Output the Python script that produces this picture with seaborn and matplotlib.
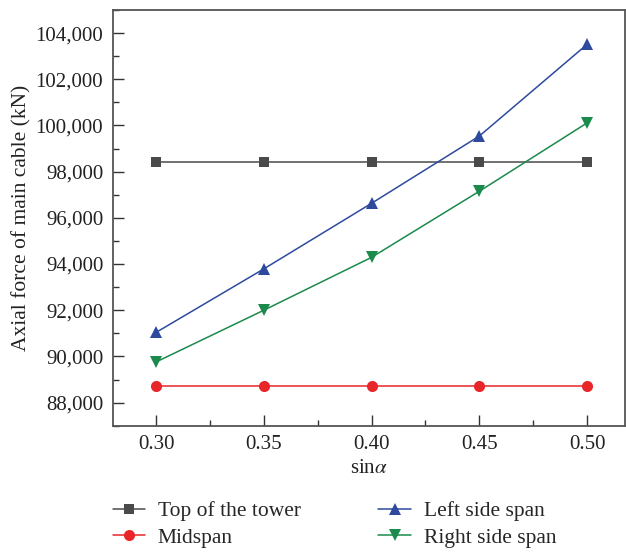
import numpy as np
import pandas as pd
import matplotlib
matplotlib.use("Agg")
import matplotlib.pyplot as plt
import seaborn as sns
from matplotlib.ticker import FuncFormatter, MultipleLocator

sin_alpha = [0.30, 0.35, 0.40, 0.45, 0.50]
top_tower = [98400, 98400, 98400, 98400, 98400]
midspan = [88720, 88720, 88720, 88720, 88720]
left_span = [91040, 93790, 96630, 99540, 103510]
right_span = [89760, 92000, 94290, 97150, 100110]

series_names = ["Top of the tower", "Midspan", "Left side span", "Right side span"]
series_vals = [top_tower, midspan, left_span, right_span]

rows = []
for name, vals in zip(series_names, series_vals):
    for x, v in zip(sin_alpha, vals):
        rows.append({"sin": x, "force": v, "series": name})
df = pd.DataFrame(rows)

sns.set_style("ticks")
plt.rcParams['font.family'] = ['Liberation Serif', 'DejaVu Serif']
plt.rcParams['mathtext.fontset'] = 'stix'

fig = plt.figure(figsize=(6.26, 5.52), dpi=100)
ax = fig.add_axes([0.1805, 0.2288, 0.8175, 0.7531])

palette = {"Top of the tower": "#4a4a4a", "Midspan": "#e8262a",
           "Left side span": "#2e4a9e", "Right side span": "#1b8a4c"}
markers = {"Top of the tower": "s", "Midspan": "o",
           "Left side span": "^", "Right side span": "v"}
sizes_ms = {"Top of the tower": 7, "Midspan": 8,
            "Left side span": 8.5, "Right side span": 8.5}

for name in series_names:
    sub = df[df["series"] == name]
    sns.lineplot(data=sub, x="sin", y="force", ax=ax, color=palette[name],
                 marker=markers[name], markersize=sizes_ms[name],
                 markeredgewidth=0, linewidth=1.1, label=name)

ax.set_xlim(0.28, 0.5175)
ax.set_ylim(87000, 105000)
ax.xaxis.set_major_locator(MultipleLocator(0.05))
ax.xaxis.set_minor_locator(MultipleLocator(0.025))
ax.yaxis.set_major_locator(MultipleLocator(2000))
ax.yaxis.set_minor_locator(MultipleLocator(1000))
ax.xaxis.set_major_formatter(FuncFormatter(lambda v, p: f"{v:.2f}"))
ax.yaxis.set_major_formatter(FuncFormatter(lambda v, p: f"{int(round(v)):,}"))
ax.tick_params(which="major", direction="in", length=8, width=1, labelsize=15,
               color="#333333", labelcolor="#222222")
ax.tick_params(which="minor", direction="in", length=4, width=1, color="#333333")
ax.tick_params(axis="x", pad=7)
ax.tick_params(axis="y", pad=7)
for s in ax.spines.values():
    s.set_linewidth(1.3)
    s.set_color("#555555")

ax.set_xlabel("sin$\\alpha$", fontsize=15, labelpad=3, color="#222222")
ax.set_ylabel("Axial force of main cable (kN)", fontsize=15.5, labelpad=3, color="#222222")

handles, labels = ax.get_legend_handles_labels()
ax.get_legend().remove()
fig.legend(handles, labels, loc="upper left", bbox_to_anchor=(0.180, 1 - 501 / 552),
           ncol=2, frameon=False, fontsize=15.5, handlelength=1.5, handletextpad=0.6,
           columnspacing=3.6, labelspacing=0.3, borderaxespad=0, borderpad=0)

fig.savefig("out.png", dpi=100)
